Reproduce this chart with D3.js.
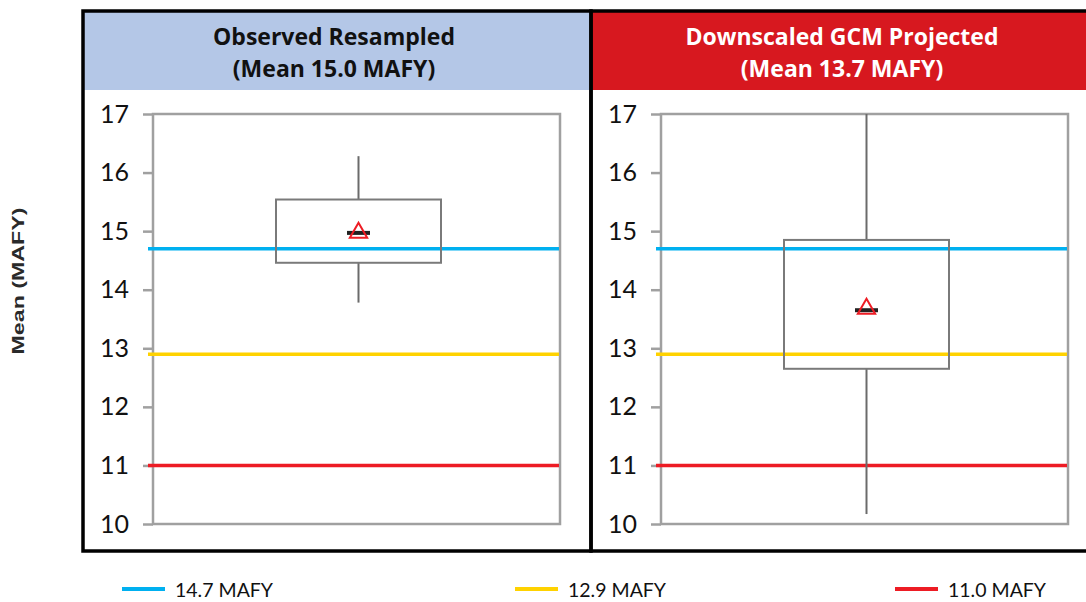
<!DOCTYPE html>
<html>
<head>
<meta charset="utf-8">
<script src="https://cdn.jsdelivr.net/npm/d3@7"></script>
<style>
  html, body { margin: 0; padding: 0; background: #fff; }
  svg { display: block; }
</style>
</head>
<body>
<svg id="chart" width="1086" height="602"></svg>
<script>
// Panels: resampled observed record vs. downscaled GCM projections
const panelNames = ["Observed Resampled", "Downscaled GCM Projected"];
const panelMeans = [15.0, 13.7];

// Box-plot statistics per panel (MAFY)
const whiskerLow  = [13.78, 10.17];
const quartile1   = [14.46, 12.65];
const medians     = [14.97, 13.65];
const quartile3   = [15.54, 14.85];
const whiskerHigh = [16.28, 17.0];

// Horizontal reference levels (MAFY)
const refValues = [14.7, 12.9, 11.0];
const refLabels = ["14.7 MAFY", "12.9 MAFY", "11.0 MAFY"];

// Y axis ticks
const yTicks = [10, 11, 12, 13, 14, 15, 16, 17];

// Styling
const refColors = ["#00B0F0", "#FFD200", "#ED1C24"];
const headerFills = ["#B4C7E7", "#D7181F"];
const headerText = ["#111111", "#ffffff"];

const svg = d3.select("#chart");

// Layout
const panelTop = 11, panelBottom = 551, headerBottom = 90;
const panelLefts = [83, 591];
const panelWidth = 508;
const plotOffset = 70, plotWidth = 407;
const y = d3.scaleLinear().domain([10, 17]).range([524, 114]);

// Panels
panelNames.forEach((name, i) => {
  const px = panelLefts[i];
  const g = svg.append("g");

  // header band
  g.append("rect")
    .attr("x", px).attr("y", panelTop)
    .attr("width", panelWidth).attr("height", headerBottom - panelTop)
    .attr("fill", headerFills[i]);

  const title = g.append("text")
    .attr("text-anchor", "middle")
    .attr("font-family", "'Open Sans', Lato, sans-serif")
    .attr("font-weight", "bold")
    .attr("font-size", 23)
    .attr("fill", headerText[i]);
  title.append("tspan").attr("x", px + panelWidth / 2 - 3).attr("y", 45).text(name);
  title.append("tspan").attr("x", px + panelWidth / 2 - 3).attr("y", 77)
    .text(`(Mean ${panelMeans[i].toFixed(1)} MAFY)`);

  // plot area
  const x0 = px + plotOffset;
  const x = d3.scaleBand().domain([name]).range([x0, x0 + plotWidth]).paddingInner(0).paddingOuter(0);
  const cx = x(name) + x.bandwidth() / 2 + 2;

  // axis ticks and labels
  const axis = d3.axisLeft(y).tickValues(yTicks).tickSize(10).tickPadding(14).tickFormat(d3.format("d"));
  const ag = g.append("g").attr("transform", `translate(${x0},0)`).call(axis);
  ag.select(".domain").remove();
  ag.selectAll(".tick line").attr("stroke", "#A0A0A0").attr("stroke-width", 2.5);
  ag.selectAll(".tick text")
    .attr("font-family", "Lato, 'Open Sans', sans-serif")
    .attr("font-size", 25)
    .attr("fill", "#111");

  // plot frame
  g.append("rect")
    .attr("x", x0).attr("y", y(17))
    .attr("width", plotWidth).attr("height", y(10) - y(17))
    .attr("fill", "none").attr("stroke", "#A0A0A0").attr("stroke-width", 2.5);

  // reference lines
  refValues.forEach((v, k) => {
    g.append("line")
      .attr("x1", x0 - 5).attr("x2", x0 + plotWidth - 1)
      .attr("y1", y(v)).attr("y2", y(v))
      .attr("stroke", refColors[k]).attr("stroke-width", 3.5);
  });

  // whiskers
  const boxW = 165;
  g.append("line")
    .attr("x1", cx).attr("x2", cx)
    .attr("y1", y(whiskerHigh[i])).attr("y2", y(quartile3[i]))
    .attr("stroke", "#6B6B6B").attr("stroke-width", 2);
  g.append("line")
    .attr("x1", cx).attr("x2", cx)
    .attr("y1", y(quartile1[i])).attr("y2", y(whiskerLow[i]))
    .attr("stroke", "#6B6B6B").attr("stroke-width", 2);

  // box
  g.append("rect")
    .attr("x", cx - boxW / 2).attr("y", y(quartile3[i]))
    .attr("width", boxW).attr("height", y(quartile1[i]) - y(quartile3[i]))
    .attr("fill", "none").attr("stroke", "#7A7A7A").attr("stroke-width", 2);

  // median bar
  g.append("line")
    .attr("x1", cx - 11.5).attr("x2", cx + 11.5)
    .attr("y1", y(medians[i])).attr("y2", y(medians[i]))
    .attr("stroke", "#222").attr("stroke-width", 4);

  // mean marker
  const tri = d3.symbol().type(d3.symbolTriangle).size(130);
  g.append("path")
    .attr("d", tri())
    .attr("transform", `translate(${cx},${y(panelMeans[i]) + 1.5})`)
    .attr("fill", "none").attr("stroke", "#EE1C24").attr("stroke-width", 2);
});

// panel borders
panelLefts.forEach(px => {
  svg.append("rect")
    .attr("x", px).attr("y", panelTop)
    .attr("width", panelWidth).attr("height", panelBottom - panelTop)
    .attr("fill", "none").attr("stroke", "#000").attr("stroke-width", 3.5);
});

// y-axis title
svg.append("text")
  .attr("transform", "translate(24,281) rotate(-90)")
  .attr("text-anchor", "middle")
  .attr("font-family", "'Liberation Sans', Arial, sans-serif")
  .attr("font-weight", "bold")
  .attr("font-size", 16.5)
  .attr("fill", "#2a2a2a")
  .attr("textLength", 147)
  .attr("lengthAdjust", "spacingAndGlyphs")
  .text("Mean (MAFY)");

// legend
const legendX = [122, 515, 895];
refLabels.forEach((lab, k) => {
  const lg = svg.append("g").attr("transform", `translate(${legendX[k]},589)`);
  lg.append("line").attr("x1", 0).attr("x2", 43).attr("y1", 0).attr("y2", 0)
    .attr("stroke", refColors[k]).attr("stroke-width", 4);
  lg.append("text")
    .attr("x", 53).attr("y", 0)
    .attr("dominant-baseline", "central")
    .attr("font-family", "Lato, 'Open Sans', sans-serif")
    .attr("font-size", 19.5)
    .attr("fill", "#111")
    .text(lab);
});
</script>
</body>
</html>
